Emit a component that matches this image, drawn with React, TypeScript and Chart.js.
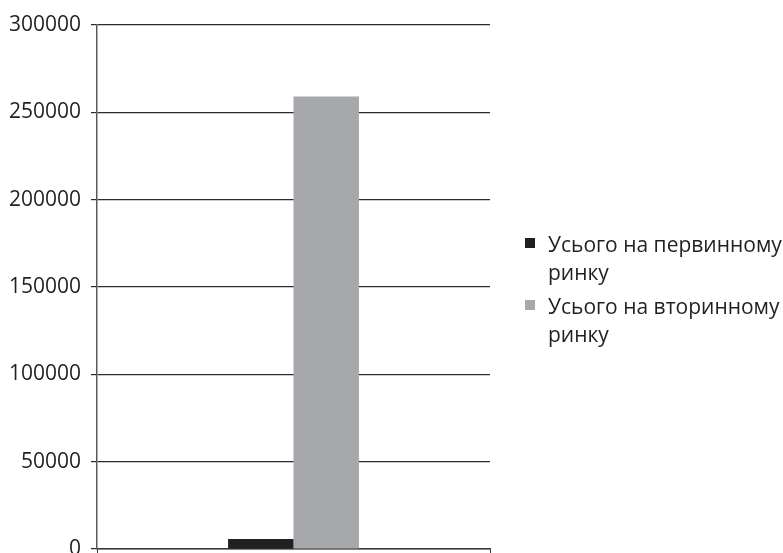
import React, { useEffect, useRef } from 'react';
import { Chart, registerables } from 'chart.js';

Chart.register(...registerables);

// Data
const CATEGORIES = [''];
const PRIMARY_MARKET = [5700];
const SECONDARY_MARKET = [259000];
const SERIES_LABELS = [
  ['Усього на первинному', 'ринку'],
  ['Усього на вторинному', 'ринку'],
];
const SERIES_COLORS = ['#231f20', '#a7a8ab'];
const Y_MIN = 0;
const Y_MAX = 300000;
const Y_STEP = 50000;

const FONT_FAMILY = '"Open Sans", "Noto Sans", sans-serif';
const TEXT_COLOR = '#231f20';

// Legend drawn to the right of the plot, with multi-line labels
const sideLegend = {
  id: 'sideLegend',
  afterDraw(chart: any) {
    const { ctx } = chart;
    ctx.save();
    ctx.font = `21px ${FONT_FAMILY}`;
    ctx.textBaseline = 'alphabetic';
    ctx.textAlign = 'left';
    chart.data.datasets.forEach((ds: any, i: number) => {
      const baseline = 252 + i * 62;
      ctx.fillStyle = ds.backgroundColor;
      ctx.fillRect(525, baseline - 14, 10, 10);
      ctx.fillStyle = TEXT_COLOR;
      (ds.legendLines as string[]).forEach((line, j) => {
        ctx.fillText(line, 548, baseline + j * 28);
      });
    });
    ctx.restore();
  },
};

export default function App() {
  const canvasRef = useRef<HTMLCanvasElement | null>(null);

  useEffect(() => {
    if (!canvasRef.current) return;
    const chart = new Chart(canvasRef.current, {
      type: 'bar',
      data: {
        labels: CATEGORIES,
        datasets: [
          {
            label: SERIES_LABELS[0].join(' '),
            legendLines: SERIES_LABELS[0],
            data: PRIMARY_MARKET,
            backgroundColor: SERIES_COLORS[0],
            borderWidth: 0,
          } as any,
          {
            label: SERIES_LABELS[1].join(' '),
            legendLines: SERIES_LABELS[1],
            data: SECONDARY_MARKET,
            backgroundColor: SERIES_COLORS[1],
            borderWidth: 0,
          } as any,
        ],
      },
      options: {
        responsive: false,
        animation: false,
        layout: { padding: { top: 25, left: 10, right: 293, bottom: 0 } },
        datasets: {
          bar: { categoryPercentage: 0.333, barPercentage: 1 },
        },
        plugins: {
          legend: { display: false },
          tooltip: { enabled: false },
        },
        scales: {
          x: {
            grid: {
              display: true,
              drawOnChartArea: false,
              drawTicks: true,
              tickLength: 6,
              color: '#3a3a3a',
              lineWidth: 1,
            },
            border: { display: true, color: '#3a3a3a', width: 1.5 },
            ticks: { display: false },
            afterFit: (s: any) => {
              s.height = 4;
              s.paddingLeft = 0;
              s.paddingRight = 0;
            },
          },
          y: {
            min: Y_MIN,
            max: Y_MAX,
            ticks: {
              stepSize: Y_STEP,
              color: TEXT_COLOR,
              padding: 10,
              font: { family: FONT_FAMILY, size: 21 },
              callback: (value: any) => String(value),
            },
            grid: {
              color: '#2b2b2b',
              lineWidth: 1.2,
              tickLength: 6,
            },
            border: { display: true, color: '#5a5a5a', width: 1.5 },
            afterFit: (s: any) => {
              s.width = 87;
              s.paddingTop = 0;
              s.paddingBottom = 0;
            },
          },
        },
      },
      plugins: [sideLegend],
    });
    return () => chart.destroy();
  }, []);

  return (
    <div
      style={{
        position: 'fixed',
        left: 0,
        top: 0,
        width: 783,
        height: 553,
        overflow: 'hidden',
        background: '#ffffff',
      }}
    >
      <canvas ref={canvasRef} width={783} height={553} style={{ display: 'block' }} />
    </div>
  );
}
